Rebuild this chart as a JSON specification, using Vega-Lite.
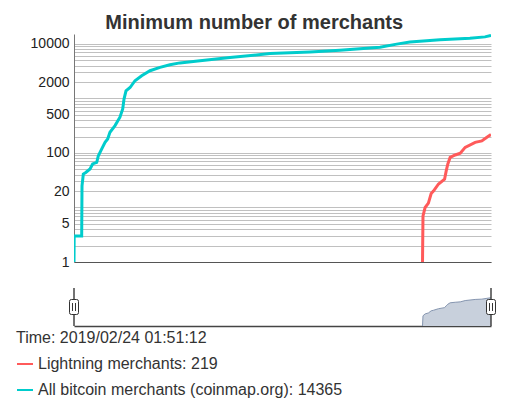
{
  "$schema": "https://vega.github.io/schema/vega-lite/v6.json",
  "background": "white",
  "padding": {"left": 5, "top": 13, "right": 5, "bottom": 5},
  "title": {
    "text": "Minimum number of merchants",
    "fontSize": 20,
    "fontWeight": "bold",
    "font": "Liberation Sans",
    "color": "#333333",
    "anchor": "middle",
    "offset": 1,
    "dx": 3
  },
  "datasets": {
    "merchants": [
      {"date": "2012-03-01", "series": "All bitcoin merchants (coinmap.org)", "value": 1},
      {"date": "2012-03-02", "series": "All bitcoin merchants (coinmap.org)", "value": 3},
      {"date": "2012-04-17", "series": "All bitcoin merchants (coinmap.org)", "value": 3},
      {"date": "2012-04-19", "series": "All bitcoin merchants (coinmap.org)", "value": 25},
      {"date": "2012-04-27", "series": "All bitcoin merchants (coinmap.org)", "value": 41},
      {"date": "2012-05-12", "series": "All bitcoin merchants (coinmap.org)", "value": 44},
      {"date": "2012-06-07", "series": "All bitcoin merchants (coinmap.org)", "value": 51},
      {"date": "2012-06-23", "series": "All bitcoin merchants (coinmap.org)", "value": 63},
      {"date": "2012-07-18", "series": "All bitcoin merchants (coinmap.org)", "value": 67},
      {"date": "2012-07-28", "series": "All bitcoin merchants (coinmap.org)", "value": 89},
      {"date": "2012-08-17", "series": "All bitcoin merchants (coinmap.org)", "value": 118},
      {"date": "2012-09-07", "series": "All bitcoin merchants (coinmap.org)", "value": 157},
      {"date": "2012-09-23", "series": "All bitcoin merchants (coinmap.org)", "value": 181},
      {"date": "2012-10-07", "series": "All bitcoin merchants (coinmap.org)", "value": 240},
      {"date": "2012-11-07", "series": "All bitcoin merchants (coinmap.org)", "value": 318},
      {"date": "2012-12-07", "series": "All bitcoin merchants (coinmap.org)", "value": 453},
      {"date": "2012-12-24", "series": "All bitcoin merchants (coinmap.org)", "value": 643},
      {"date": "2013-01-01", "series": "All bitcoin merchants (coinmap.org)", "value": 977},
      {"date": "2013-01-13", "series": "All bitcoin merchants (coinmap.org)", "value": 1380},
      {"date": "2013-02-07", "series": "All bitcoin merchants (coinmap.org)", "value": 1590},
      {"date": "2013-03-09", "series": "All bitcoin merchants (coinmap.org)", "value": 2120},
      {"date": "2013-04-19", "series": "All bitcoin merchants (coinmap.org)", "value": 2620},
      {"date": "2013-06-09", "series": "All bitcoin merchants (coinmap.org)", "value": 3230},
      {"date": "2013-08-09", "series": "All bitcoin merchants (coinmap.org)", "value": 3720},
      {"date": "2013-10-09", "series": "All bitcoin merchants (coinmap.org)", "value": 4160},
      {"date": "2013-12-09", "series": "All bitcoin merchants (coinmap.org)", "value": 4500},
      {"date": "2014-04-11", "series": "All bitcoin merchants (coinmap.org)", "value": 4910},
      {"date": "2014-10-11", "series": "All bitcoin merchants (coinmap.org)", "value": 5640},
      {"date": "2015-06-13", "series": "All bitcoin merchants (coinmap.org)", "value": 6660},
      {"date": "2016-02-13", "series": "All bitcoin merchants (coinmap.org)", "value": 7140},
      {"date": "2016-08-14", "series": "All bitcoin merchants (coinmap.org)", "value": 7680},
      {"date": "2017-02-14", "series": "All bitcoin merchants (coinmap.org)", "value": 8400},
      {"date": "2017-04-16", "series": "All bitcoin merchants (coinmap.org)", "value": 8700},
      {"date": "2017-07-27", "series": "All bitcoin merchants (coinmap.org)", "value": 9950},
      {"date": "2017-10-16", "series": "All bitcoin merchants (coinmap.org)", "value": 10900},
      {"date": "2018-04-18", "series": "All bitcoin merchants (coinmap.org)", "value": 11900},
      {"date": "2018-10-18", "series": "All bitcoin merchants (coinmap.org)", "value": 12700},
      {"date": "2019-01-18", "series": "All bitcoin merchants (coinmap.org)", "value": 13500},
      {"date": "2019-02-24", "series": "All bitcoin merchants (coinmap.org)", "value": 14365},
      {"date": "2018-01-01", "series": "Lightning merchants", "value": 1},
      {"date": "2018-01-04", "series": "Lightning merchants", "value": 7},
      {"date": "2018-01-17", "series": "Lightning merchants", "value": 10},
      {"date": "2018-02-06", "series": "Lightning merchants", "value": 12},
      {"date": "2018-02-23", "series": "Lightning merchants", "value": 18},
      {"date": "2018-03-09", "series": "Lightning merchants", "value": 20},
      {"date": "2018-04-09", "series": "Lightning merchants", "value": 27},
      {"date": "2018-05-16", "series": "Lightning merchants", "value": 33},
      {"date": "2018-05-26", "series": "Lightning merchants", "value": 47},
      {"date": "2018-06-05", "series": "Lightning merchants", "value": 63},
      {"date": "2018-06-19", "series": "Lightning merchants", "value": 83},
      {"date": "2018-07-20", "series": "Lightning merchants", "value": 92},
      {"date": "2018-08-20", "series": "Lightning merchants", "value": 99},
      {"date": "2018-09-19", "series": "Lightning merchants", "value": 127},
      {"date": "2018-11-19", "series": "Lightning merchants", "value": 157},
      {"date": "2018-12-30", "series": "Lightning merchants", "value": 167},
      {"date": "2019-01-30", "series": "Lightning merchants", "value": 194},
      {"date": "2019-02-24", "series": "Lightning merchants", "value": 219}
    ],
    "handles": [
      {"date": "2012-03-01"},
      {"date": "2019-02-24"}
    ]
  },
  "spacing": 18,
  "resolve": {"scale": {"y": "independent"}},
  "vconcat": [
    {
      "width": 417,
      "height": 228,
      "data": {"name": "merchants"},
      "mark": {"type": "line", "strokeWidth": 3, "clip": true},
      "encoding": {
        "x": {
          "field": "date",
          "type": "temporal",
          "scale": {"domain": [{"year": 2012, "month": 3, "date": 1, "utc": true}, {"year": 2019, "month": 2, "date": 24, "utc": true}]},
          "axis": {"title": null, "labels": false, "ticks": false, "grid": false, "domainColor": "#555555", "domainWidth": 1}
        },
        "y": {
          "field": "value",
          "type": "quantitative",
          "scale": {"type": "log", "domain": [1, 15250], "nice": false},
          "axis": {
            "title": null,
            "values": [1,2,3,4,5,6,7,8,9,10,20,30,40,50,60,70,80,90,100,200,300,400,500,600,700,800,900,1000,2000,3000,4000,5000,6000,7000,8000,9000,10000],
            "labelExpr": "indexof([1,5,20,100,500,2000,10000], datum.value) >= 0 ? '' + datum.value : ''",
            "labelOverlap": false,
            "labelFontSize": 14,
            "labelFont": "Liberation Sans",
            "labelColor": "#222222",
            "labelPadding": 5,
            "ticks": false,
            "grid": true,
            "gridColor": "#c0c0c0",
            "gridWidth": 1,
            "domainColor": "#777777",
            "minExtent": 69
          }
        },
        "color": {
          "field": "series",
          "type": "nominal",
          "scale": {"domain": ["Lightning merchants", "All bitcoin merchants (coinmap.org)"], "range": ["#ff5a5a", "#00cccc"]},
          "legend": {
            "orient": "none",
            "legendX": -58,
            "legendY": 296,
            "direction": "vertical",
            "title": "Time: 2019/02/24 01:51:12",
            "titleFont": "Liberation Sans",
            "titleFontSize": 16,
            "titleFontWeight": "normal",
            "titleColor": "#333333",
            "titleLimit": 600,
            "titlePadding": 9,
            "labelFont": "Liberation Sans",
            "labelFontSize": 16,
            "labelColor": "#333333",
            "labelOffset": 4,
            "labelLimit": 600,
            "labelExpr": "datum.label == 'Lightning merchants' ? datum.label + ': 219' : datum.label + ': 14365'",
            "symbolType": "stroke",
            "symbolSize": 256,
            "symbolStrokeWidth": 2,
            "rowPadding": 9
          }
        }
      }
    },
    {
      "width": 417,
      "height": 38,
      "layer": [
        {
          "data": {"name": "merchants"},
          "transform": [{"filter": "datum.series === 'Lightning merchants'"}],
          "mark": {
            "type": "area",
            "color": "#c8d0dc",
            "opacity": 1,
            "line": {"color": "#8696b0", "strokeWidth": 1}
          },
          "encoding": {
            "x": {
              "field": "date",
              "type": "temporal",
              "scale": {"domain": [{"year": 2012, "month": 3, "date": 1, "utc": true}, {"year": 2019, "month": 2, "date": 24, "utc": true}]},
              "axis": {"title": null, "labels": false, "ticks": false, "grid": false, "domainColor": "#444444", "domainWidth": 1.5}
            },
            "y": {
              "field": "value",
              "type": "quantitative",
              "scale": {"type": "log", "domain": [1, 1390], "nice": false},
              "axis": null
            },
            "y2": {"datum": 1}
          }
        },
        {
          "data": {"name": "handles"},
          "mark": {"type": "rule", "color": "#444444", "strokeWidth": 1.5},
          "encoding": {"x": {"field": "date", "type": "temporal"}}
        },
        {
          "data": {"name": "handles"},
          "mark": {
            "type": "point",
            "shape": "M-0.6,-0.75 Q-0.6,-1 -0.35,-1 L0.35,-1 Q0.6,-1 0.6,-0.75 L0.6,0.75 Q0.6,1 0.35,1 L-0.35,1 Q-0.6,1 -0.6,0.75 Z M-0.2,-0.53 L-0.2,0.53 M0.2,-0.53 L0.2,0.53",
            "size": 225,
            "filled": true,
            "fill": "#ffffff",
            "stroke": "#333333",
            "strokeWidth": 1,
            "opacity": 1
          },
          "encoding": {"x": {"field": "date", "type": "temporal"}}
        }
      ]
    }
  ],
  "config": {
    "view": {"stroke": null},
    "font": "Liberation Sans"
  }
}
